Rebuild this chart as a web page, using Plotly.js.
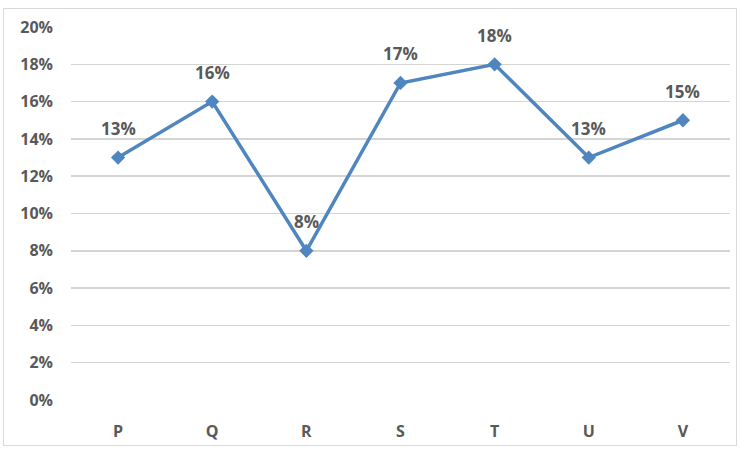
<!DOCTYPE html>
<html>
<head>
<meta charset="utf-8">
<script src="https://cdn.plot.ly/plotly-3.0.1.min.js"></script>
<style>
html,body{margin:0;padding:0;background:#fff;}
#chart{width:741px;height:450px;position:relative;}
#frame{position:absolute;left:3px;top:8px;width:734px;height:438px;border:1px solid #d9d9d9;box-sizing:border-box;pointer-events:none;}
</style>
</head>
<body>
<div id="chart"></div>
<div id="frame"></div>
<script>
const categories = ["P", "Q", "R", "S", "T", "U", "V"];
const values = [13, 16, 8, 17, 18, 13, 15];
const yTickVals = [0, 2, 4, 6, 8, 10, 12, 14, 16, 18, 20];
const yTickText = ["0%", "2%", "4%", "6%", "8%", "10%", "12%", "14%", "16%", "18%", "20%"];

const lineColor = "#4F86C0";
const textColor = "#595959";
const fontFam = "'Open Sans', 'Liberation Sans', sans-serif";

const trace = {
  x: categories,
  y: values,
  type: "scatter",
  mode: "lines+markers",
  line: {color: lineColor, width: 3.5},
  marker: {symbol: "diamond", size: 11, color: lineColor},
  hoverinfo: "skip"
};

const annotations = categories.map((c, i) => ({
  x: c, y: values[i], xref: "x", yref: "y",
  text: "<b>" + values[i] + "%</b>",
  showarrow: false, yshift: 29,
  font: {family: fontFam, size: 17, color: textColor}
}));

const layout = {
  width: 741, height: 450,
  margin: {l: 71, r: 11, t: 27, b: 50},
  paper_bgcolor: "rgba(0,0,0,0)",
  plot_bgcolor: "#fff",
  showlegend: false,
  xaxis: {
    type: "category",
    range: [-0.5, 6.5],
    showgrid: false,
    zeroline: false,
    showline: false,
    ticks: "",
    ticklabelstandoff: 20,
    tickfont: {family: fontFam, size: 16, color: textColor, weight: "bold"}
  },
  yaxis: {
    range: [0, 20],
    tickvals: yTickVals,
    ticktext: yTickText,
    showgrid: true,
    gridcolor: "#d4d4d4",
    gridwidth: 1.5,
    zeroline: false,
    showline: false,
    ticks: "",
    ticklabelstandoff: 17,
    tickfont: {family: fontFam, size: 16, color: textColor, weight: "bold"}
  },
  annotations: annotations
};

Plotly.newPlot("chart", [trace], layout, {displayModeBar: false, staticPlot: true});
</script>
</body>
</html>
